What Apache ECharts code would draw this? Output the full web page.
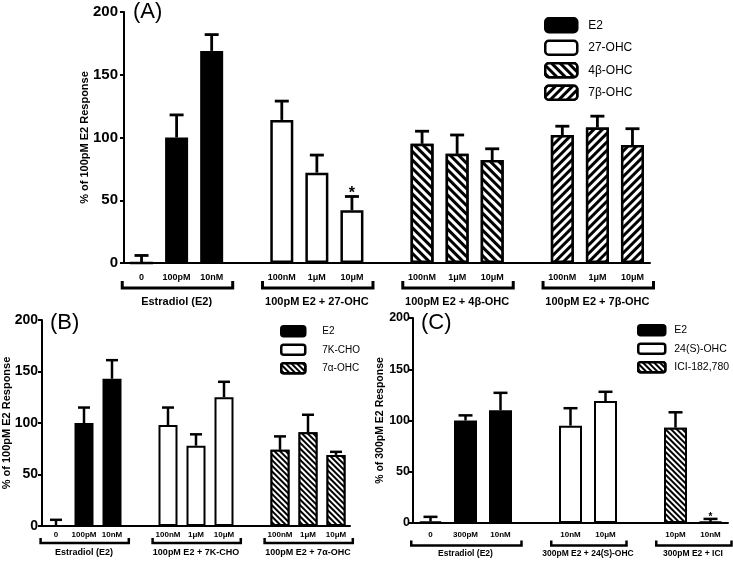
<!DOCTYPE html>
<html>
<head>
<meta charset="utf-8">
<script src="https://cdn.jsdelivr.net/npm/echarts@6/dist/echarts.min.js"></script>
<style>
  html, body { margin: 0; padding: 0; background: #fff; }
  #chart { width: 733px; height: 562px; }
</style>
</head>
<body>
<div id="chart"></div>
<script>
// ---- data ----
// (A)
const slotsA = ['0', '100pM', '10nM', '', '100nM', '1μM', '10μM', '', '100nM', '1μM', '10μM', '', '100nM', '1μM', '10μM'];
const meanA = [0, 100, 169, null, 114, 72, 42, null, 95, 87, 82, null, 102, 108, 94];
const errA = [6, 118, 182, null, 129, 86, 53, null, 105, 102, 91, null, 109, 117, 107];
const kindA = [0, 0, 0, null, 1, 1, 1, null, 2, 2, 2, null, 3, 3, 3];
const starA = ['', '', '', '', '', '', '*', '', '', '', '', '', '', '', ''];
const namesA = ['E2', '27-OHC', '4β-OHC', '7β-OHC'];
const groupsA = [[0, 2, 'Estradiol (E2)'], [4, 6, '100pM E2 + 27-OHC'], [8, 10, '100pM E2 + 4β-OHC'], [12, 14, '100pM E2 + 7β-OHC']];

// (B)
const slotsB = ['0', '100pM', '10nM', '', '100nM', '1μM', '10μM', '', '100nM', '1μM', '10μM'];
const meanB = [0, 100, 143, null, 98, 78, 125, null, 74, 91, 69];
const errB = [6, 115, 161, null, 115, 89, 140, null, 87, 108, 72];
const kindB = [0, 0, 0, null, 1, 1, 1, null, 2, 2, 2];
const starB = ['', '', '', '', '', '', '', '', '', '', ''];
const namesB = ['E2', '7K-CHO', '7α-OHC'];
const groupsB = [[0, 2, 'Estradiol (E2)'], [4, 6, '100pM E2 + 7K-CHO'], [8, 10, '100pM E2 + 7α-OHC']];

// (C)
const slotsC = ['0', '300pM', '10nM', '', '10nM', '10μM', '', '10pM', '10nM'];
const meanC = [1.5, 100, 110, null, 95, 119, null, 93, 1];
const errC = [6, 105, 127, null, 112, 128, null, 108, 4];
const kindC = [0, 0, 0, null, 1, 1, null, 2, 2];
const starC = ['', '', '', '', '', '', '', '', '*'];
const namesC = ['E2', '24(S)-OHC', 'ICI-182,780'];
const groupsC = [[0, 2, 'Estradiol (E2)'], [4, 5, '300pM E2 + 24(S)-OHC'], [7, 8, '300pM E2 + ICI']];

const FONT = "'Liberation Sans', Arial, sans-serif";

// hatch pattern, dir = 1 for "\\\\", -1 for "////"
function hatch(dir, s) {
  return {
    symbol: 'rect', symbolSize: 1, color: '#000', backgroundColor: '#fff',
    dashArrayX: [1, 0], dashArrayY: [s, s], rotation: dir * Math.PI / 4
  };
}
function fillStyle(type, bw, s) {
  if (type === 'solid') return { color: '#000', borderColor: '#000', borderWidth: bw };
  if (type === 'open') return { color: '#fff', borderColor: '#000', borderWidth: bw };
  if (type === 'back') return { color: '#fff', borderColor: '#000', borderWidth: bw, decal: hatch(1, s) };
  return { color: '#fff', borderColor: '#000', borderWidth: bw, decal: hatch(-1, s) };
}

const panels = [
  {
    slots: slotsA, mean: meanA, err: errA, kind: kindA, star: starA, names: namesA, groups: groupsA,
    fills: ['solid', 'open', 'back', 'fwd'], tag: '(A)', tagPos: [133, 1], yName: '% of 100pM E2 Response',
    grid: { left: 124, top: 12, width: 526, height: 251 },
    legend: { left: 544, top: 17, w: 32, h: 14, gap: 6, font: 12, pad: 6 },
    tickFont: 15, tickMargin: 6, yNameFont: 11, yNameGap: 34, catFont: 9, catMargin: 10,
    barW: 23, border: 2.5, errW: 2.8, cap: 7, brk: 25, rise: 7, brkW: 3, grpY: 38.5, grpFont: 11, starFont: 16, hatch: 2.4
  },
  {
    slots: slotsB, mean: meanB, err: errB, kind: kindB, star: starB, names: namesB, groups: groupsB,
    fills: ['solid', 'open', 'back'], tag: '(B)', tagPos: [50, 312], yName: '% of 100pM E2 Response',
    grid: { left: 42, top: 320, width: 308, height: 206 },
    legend: { left: 280, top: 325, w: 24, h: 10, gap: 6, font: 10, pad: 12 },
    tickFont: 14, tickMargin: 4, yNameFont: 11, yNameGap: 30, catFont: 8, catMargin: 5,
    barW: 19, border: 2, errW: 2.5, cap: 6, brk: 17, rise: 5, brkW: 2.5, grpY: 27, grpFont: 9, starFont: 12, hatch: 1.9
  },
  {
    slots: slotsC, mean: meanC, err: errC, kind: kindC, star: starC, names: namesC, groups: groupsC,
    fills: ['solid', 'open', 'back'], tag: '(C)', tagPos: [421, 312], yName: '% of 300pM E2 Response',
    grid: { left: 413, top: 318, width: 315, height: 205 },
    legend: { left: 637, top: 324, w: 27, h: 10, gap: 6, font: 10.5, pad: 4 },
    tickFont: 12.5, tickMargin: 3, yNameFont: 10.5, yNameGap: 27, catFont: 8, catMargin: 8,
    barW: 23, border: 2, errW: 2.5, cap: 7, brk: 22.5, rise: 5, brkW: 2.5, grpY: 30.5, grpFont: 8.5, starFont: 10, hatch: 2
  }
];

const grid = [], xAxis = [], yAxis = [], series = [], legend = [], title = [];

panels.forEach(function (p, pi) {
  grid.push(Object.assign({ containLabel: false, outerBoundsMode: 'none' }, p.grid));
  xAxis.push({
    type: 'category', gridIndex: pi, data: p.slots,
    axisLine: { lineStyle: { color: '#000', width: 2 } },
    axisTick: { show: false },
    axisLabel: { interval: 0, color: '#000', fontFamily: FONT, fontWeight: 'bold', fontSize: p.catFont, margin: p.catMargin }
  });
  yAxis.push({
    type: 'value', gridIndex: pi, min: 0, max: 200, interval: 50,
    name: p.yName, nameLocation: 'middle', nameGap: p.yNameGap, nameMoveOverlap: false,
    nameTextStyle: { color: '#000', fontFamily: FONT, fontWeight: 'bold', fontSize: p.yNameFont },
    axisLine: { show: true, lineStyle: { color: '#000', width: 2 } },
    axisTick: { show: true, length: 4, lineStyle: { color: '#000', width: 2 } },
    axisLabel: { color: '#000', fontFamily: FONT, fontWeight: 'bold', fontSize: p.tickFont, margin: p.tickMargin },
    splitLine: { show: false }
  });
  title.push({
    text: p.tag, left: p.tagPos[0], top: p.tagPos[1], padding: 0,
    textStyle: { color: '#000', fontFamily: FONT, fontWeight: 'normal', fontSize: 22 }
  });

  // one bar series per legend entry
  p.names.forEach(function (name, k) {
    series.push({
      type: 'bar', name: name, xAxisIndex: pi, yAxisIndex: pi,
      barWidth: p.barW, barGap: '-100%',
      itemStyle: fillStyle(p.fills[k], p.border, p.hatch),
      data: p.mean.map(function (v, i) { return p.kind[i] === k ? v : '-'; }),
      z: 2
    });
  });

  legend.push({
    orient: 'vertical', left: p.legend.left, top: p.legend.top, padding: 0,
    itemWidth: p.legend.w, itemHeight: p.legend.h, itemGap: p.legend.gap,
    selectedMode: false, icon: 'roundRect',
    textStyle: { color: '#000', fontFamily: FONT, fontSize: p.legend.font, padding: [0, 0, 0, p.legend.pad] },
    data: p.names.map(function (name, k) {
      return { name: name, itemStyle: fillStyle(p.fills[k], 2.5, p.hatch) };
    })
  });

  // error bars (upper only) with significance stars
  const errData = [];
  p.mean.forEach(function (v, i) { if (v !== null) errData.push([i, v, p.err[i]]); });
  series.push({
    type: 'custom', xAxisIndex: pi, yAxisIndex: pi, clip: false, z: 3, silent: true,
    data: errData,
    renderItem: function (params, api) {
      const i = api.value(0);
      const b = api.coord([i, api.value(1)]);
      const t = api.coord([i, api.value(2)]);
      const st = { stroke: '#000', lineWidth: p.errW };
      const kids = [
        { type: 'line', shape: { x1: b[0], y1: b[1], x2: t[0], y2: t[1] }, style: st },
        { type: 'line', shape: { x1: t[0] - p.cap, y1: t[1], x2: t[0] + p.cap, y2: t[1] }, style: st }
      ];
      if (p.star[i]) {
        kids.push({
          type: 'text', x: t[0], y: t[1] + p.starFont * 0.35,
          style: { text: p.star[i], fill: '#000', font: 'bold ' + p.starFont + 'px ' + FONT, align: 'center', verticalAlign: 'bottom' }
        });
      }
      return { type: 'group', children: kids };
    }
  });

  // group brackets and labels under the axis
  series.push({
    type: 'custom', xAxisIndex: pi, yAxisIndex: pi, clip: false, z: 3, silent: true,
    data: p.groups.map(function (g) { return [g[0], g[1]]; }),
    renderItem: function (params, api) {
      const g = p.groups[params.dataIndex];
      const a = api.coord([g[0], 0]);
      const c = api.coord([g[1], 0]);
      const band = api.size([1, 0])[0];
      const xl = a[0] - 0.55 * band, xr = c[0] + 0.6 * band, y = a[1] + p.brk;
      return {
        type: 'group', children: [
          { type: 'polyline', shape: { points: [[xl, y - p.rise], [xl, y], [xr, y], [xr, y - p.rise]] },
            style: { stroke: '#000', lineWidth: p.brkW, fill: null } },
          { type: 'text', x: (a[0] + c[0]) / 2, y: a[1] + p.grpY,
            style: { text: g[2], fill: '#000', font: 'bold ' + p.grpFont + 'px ' + FONT, align: 'center', verticalAlign: 'middle' } }
        ]
      };
    }
  });
});

const chart = echarts.init(document.getElementById('chart'));
chart.setOption({
  animation: false,
  backgroundColor: '#fff',
  title: title,
  legend: legend,
  grid: grid,
  xAxis: xAxis,
  yAxis: yAxis,
  series: series
});
</script>
</body>
</html>
